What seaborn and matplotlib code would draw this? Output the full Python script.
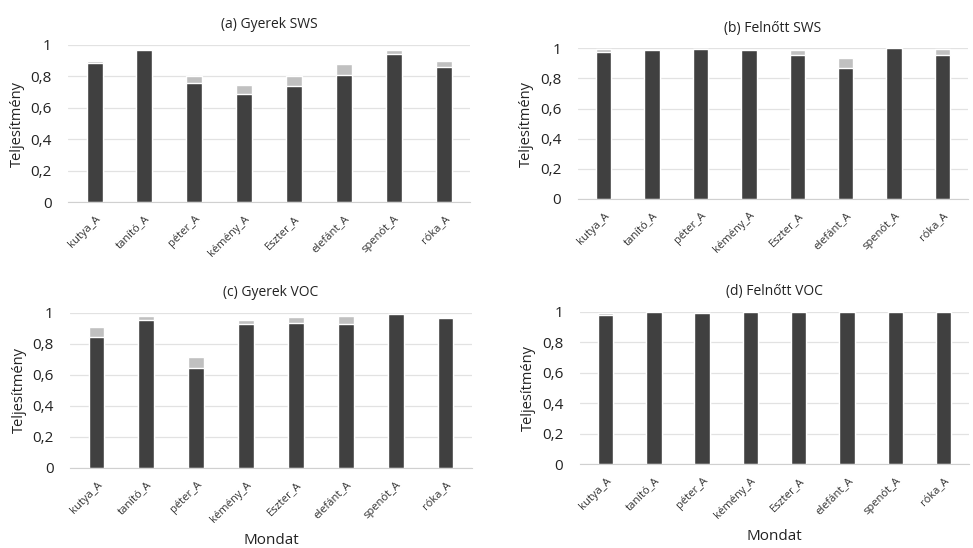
import matplotlib
matplotlib.use("Agg")
import matplotlib.pyplot as plt
import seaborn as sns
import pandas as pd
from matplotlib.ticker import FuncFormatter

# mondatok (x tengely)
mondatok = ["kutya_A", "tanító_A", "péter_A", "kémény_A", "Eszter_A", "elefánt_A", "spenót_A", "róka_A"]

# sötét rész (helyes) és teljes oszlopmagasság
gyerek_sws_helyes = [0.883, 0.968, 0.755, 0.687, 0.738, 0.809, 0.940, 0.857]
gyerek_sws_teljes = [0.898, 0.968, 0.802, 0.747, 0.802, 0.877, 0.968, 0.900]
felnott_sws_helyes = [0.974, 0.989, 0.996, 0.985, 0.956, 0.868, 1.000, 0.956]
felnott_sws_teljes = [0.996, 0.989, 0.996, 0.989, 0.989, 0.934, 1.000, 0.993]
gyerek_voc_helyes = [0.846, 0.957, 0.647, 0.927, 0.936, 0.931, 0.991, 0.970]
gyerek_voc_teljes = [0.906, 0.981, 0.717, 0.957, 0.974, 0.981, 0.995, 0.970]
felnott_voc_helyes = [0.978, 1.000, 0.993, 0.996, 1.000, 0.996, 1.000, 1.000]
felnott_voc_teljes = [0.990, 1.000, 0.995, 0.996, 1.000, 0.996, 1.000, 1.000]

cimek = ["(a) Gyerek SWS", "(b) Felnőtt SWS", "(c) Gyerek VOC", "(d) Felnőtt VOC"]

sns.set_style("white")
plt.rcParams["font.family"] = ["Open Sans", "DejaVu Sans"]

fig = plt.figure(figsize=(9.73, 5.48), dpi=100)
pozok = [
    [0.070, 0.631, 0.413, 0.287],
    [0.594, 0.637, 0.401, 0.275],
    [0.072, 0.146, 0.413, 0.283],
    [0.596, 0.153, 0.400, 0.278],
]
adatok = [
    (gyerek_sws_helyes, gyerek_sws_teljes),
    (felnott_sws_helyes, felnott_sws_teljes),
    (gyerek_voc_helyes, gyerek_voc_teljes),
    (felnott_voc_helyes, felnott_voc_teljes),
]

vesszo = FuncFormatter(lambda v, p: f"{v:.1f}".replace(".", ",") if 0 < v < 1 else f"{v:.0f}")

for i, (poz, (helyes, teljes)) in enumerate(zip(pozok, adatok)):
    ax = fig.add_axes(poz)
    df = pd.DataFrame({"Mondat": mondatok, "helyes": helyes, "teljes": teljes})
    sns.barplot(data=df, x="Mondat", y="teljes", color="#c0c0c0", width=0.32,
                saturation=1, ax=ax, zorder=3)
    sns.barplot(data=df, x="Mondat", y="helyes", color="#404040", width=0.32,
                saturation=1, ax=ax, zorder=4)
    ax.set_ylim(0, 1.0)
    ax.set_xlim(-0.53, 7.53)
    ax.set_yticks([0, 0.2, 0.4, 0.6, 0.8, 1.0])
    ax.yaxis.set_major_formatter(vesszo)
    ax.grid(axis="y", color="#e2e2e2", linewidth=0.9, zorder=0)
    for s in ["top", "right", "left"]:
        ax.spines[s].set_visible(False)
    ax.spines["bottom"].set_color("#d0d0d0")
    ax.spines["bottom"].set_zorder(5)
    ax.tick_params(axis="y", length=0, labelsize=11, colors="#222222", pad=12)
    ax.tick_params(axis="x", length=0, labelsize=8, colors="#333333", pad=8)
    for lab in ax.get_xticklabels():
        lab.set_rotation(45)
        lab.set_ha("right")
        lab.set_rotation_mode("anchor")
    ax.set_ylabel("Teljesítmény", fontsize=10.5, color="#222222", labelpad=4)
    if i >= 2:
        ax.set_xlabel("Mondat", fontsize=11, color="#222222", labelpad=6)
    else:
        ax.set_xlabel("")
    ax.set_title(cimek[i], fontsize=10, color="#222222", pad=12)

fig.savefig("out.png", dpi=100)
